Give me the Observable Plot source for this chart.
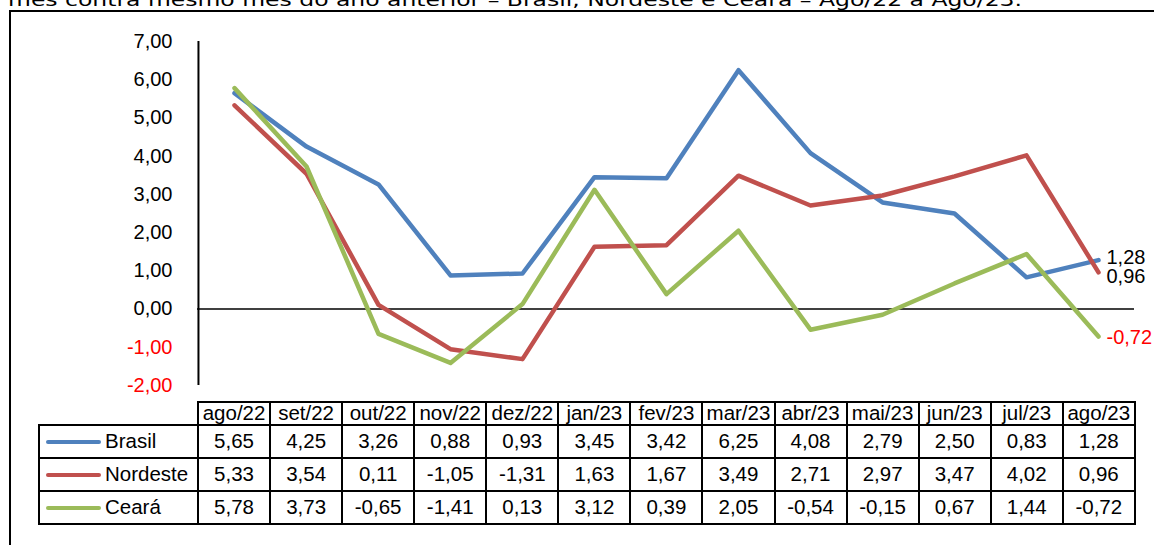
<!DOCTYPE html>
<html><head><meta charset="utf-8">
<script src="https://cdn.jsdelivr.net/npm/d3@7"></script>
<script src="https://cdn.jsdelivr.net/npm/@observablehq/plot@0.6"></script>
<style>
body{margin:0;background:#fff;}
#wrap{position:relative;width:1154px;height:545px;overflow:hidden;font-family:"Liberation Sans",Arial,sans-serif;background:#fff;}
#frame{position:absolute;left:9px;top:10px;width:1300px;height:700px;border-left:2px solid #000;border-top:2px solid #000;}
#titlesvg{position:absolute;left:0;top:0;}
#chart{position:absolute;left:0;top:0;}
#tbl{position:absolute;left:38px;top:401px;border-collapse:collapse;table-layout:fixed;font-size:20.5px;color:#000;}
#tbl td{border:2px solid #000;padding:0;text-align:center;white-space:nowrap;overflow:hidden;line-height:1;}
#tbl tr.head td{height:21px;}
#tbl tr.body td{height:31px;}
#tbl td.blank{border-top:none;border-left:none;}
#tbl td.leg{text-align:left;}
.sw{display:inline-block;width:55px;height:4.5px;border-radius:3px;margin-left:6px;margin-right:4px;vertical-align:middle;position:relative;top:-1px;}
</style></head>
<body>
<div id="wrap">
  <div id="frame"></div>
  <svg id="titlesvg" width="1154" height="30"><text id="title" x="8" y="6" font-family="DejaVu Sans Condensed" font-size="18.5" textLength="1014" lengthAdjust="spacingAndGlyphs" fill="#000">mês contra mesmo mês do ano anterior – Brasil, Nordeste e Ceará – Ago/22 a Ago/23.</text></svg>
  <div id="chart"></div>
  <table id="tbl"></table>
</div>
<script>
const months = ["ago/22","set/22","out/22","nov/22","dez/22","jan/23","fev/23","mar/23","abr/23","mai/23","jun/23","jul/23","ago/23"];
const brasil   = [5.65,4.25,3.26,0.88,0.93,3.45,3.42,6.25,4.08,2.79,2.50,0.83,1.28];
const nordeste = [5.33,3.54,0.11,-1.05,-1.31,1.63,1.67,3.49,2.71,2.97,3.47,4.02,0.96];
const ceara    = [5.78,3.73,-0.65,-1.41,0.13,3.12,0.39,2.05,-0.54,-0.15,0.67,1.44,-0.72];
const seriesNames = ["Brasil","Nordeste","Ceará"];
const yTicks = [7,6,5,4,3,2,1,0,-1,-2];

(function(){
const colors = {"Brasil":"#4F81BD","Nordeste":"#C0504D","Ceará":"#9BBB59"};
const seriesValues = {"Brasil":brasil,"Nordeste":nordeste,"Ceará":ceara};
const fmt = v => v.toFixed(2).replace(".", ",");

const W = 1154, H = 545;
const pLeft = 197, pRight = 1134, pTop = 41, pBottom = 385;
const step = (pRight - pLeft) / months.length;

const rows = name => months.map((m, i) => ({month: m, value: seriesValues[name][i], name}));
const last = months.length - 1;
const nudge = {"Brasil": -3, "Nordeste": 4, "Ceará": 1};

const chart = Plot.plot({
  width: W, height: H,
  marginLeft: pLeft, marginRight: W - pRight, marginTop: pTop, marginBottom: H - pBottom,
  style: {background: "transparent", fontFamily: "Liberation Sans, Arial, sans-serif"},
  x: {type: "point", domain: months, padding: 0.5, axis: null},
  y: {domain: [-2, 7], axis: null},
  marks: [
    Plot.axisY(yTicks.filter(d => d >= 0), {anchor: "left", tickSize: 0, tickPadding: 25, tickFormat: fmt, fontSize: 20, fill: "#000", label: null}),
    Plot.axisY(yTicks.filter(d => d < 0), {anchor: "left", tickSize: 0, tickPadding: 25, tickFormat: fmt, fontSize: 20, fill: "#FF0000", label: null}),
    Plot.ruleX([months[0]], {dx: -step / 2, stroke: "#000", strokeWidth: 2}),
    Plot.ruleY([0], {stroke: "#000", strokeWidth: 1.5}),
    ...seriesNames.map(n => Plot.line(rows(n), {x: "month", y: "value", stroke: colors[n], strokeWidth: 4.5, strokeLinecap: "round", strokeLinejoin: "round"})),
    ...seriesNames.map(n => Plot.text([{month: months[last], value: seriesValues[n][last]}], {
      x: "month", y: "value", text: d => fmt(d.value), dx: 8, dy: nudge[n], textAnchor: "start", fontSize: 20,
      fill: seriesValues[n][last] < 0 ? "#FF0000" : "#000"}))
  ]
});
document.getElementById("chart").appendChild(chart);

// table
const tbl = d3.select("#tbl");
const colgroup = tbl.append("colgroup");
colgroup.append("col").style("width", (pLeft - 38) + "px");
months.forEach(() => colgroup.append("col").style("width", step + "px"));
const head = tbl.append("tr").attr("class", "head");
head.append("td").attr("class", "blank");
months.forEach(m => head.append("td").text(m));
seriesNames.forEach(n => {
  const tr = tbl.append("tr").attr("class", "body");
  const lc = tr.append("td").attr("class", "leg");
  lc.append("span").attr("class", "sw").style("background", colors[n]);
  lc.append("span").text(n);
  seriesValues[n].forEach(v => tr.append("td").text(fmt(v)));
});
})();
</script>
</body></html>
